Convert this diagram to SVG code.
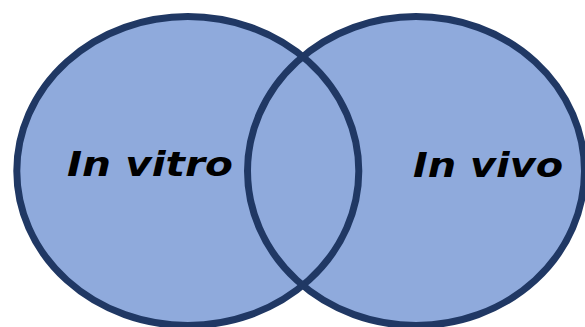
<svg xmlns="http://www.w3.org/2000/svg" width="585" height="327" viewBox="0 0 585 327">
  <style>
    .fill { fill: #8FAADC; stroke: none; }
    .ring { fill: none; stroke: #203864; stroke-width: 7; }
    .label { font-family: "DejaVu Sans", "Liberation Sans", sans-serif; font-weight: bold; font-style: italic; font-size: 34px; fill: #000000; }
  </style>
  <rect width="585" height="327" fill="#FFFFFF"/>
  <g id="fills">
    <ellipse class="fill" cx="187.8" cy="171" rx="171" ry="154.5"/>
    <ellipse class="fill" cx="416" cy="171" rx="168.5" ry="154.5"/>
  </g>
  <g id="in-vitro">
    <ellipse class="ring" cx="187.8" cy="171" rx="171" ry="154.5"/>
    <text class="label" x="67" y="176" textLength="166" lengthAdjust="spacingAndGlyphs">In vitro</text>
  </g>
  <g id="in-vivo">
    <ellipse class="ring" cx="416" cy="171" rx="168.5" ry="154.5"/>
    <text class="label" x="413" y="177" textLength="150" lengthAdjust="spacingAndGlyphs">In vivo</text>
  </g>
  <g id="connectors"></g>
</svg>
